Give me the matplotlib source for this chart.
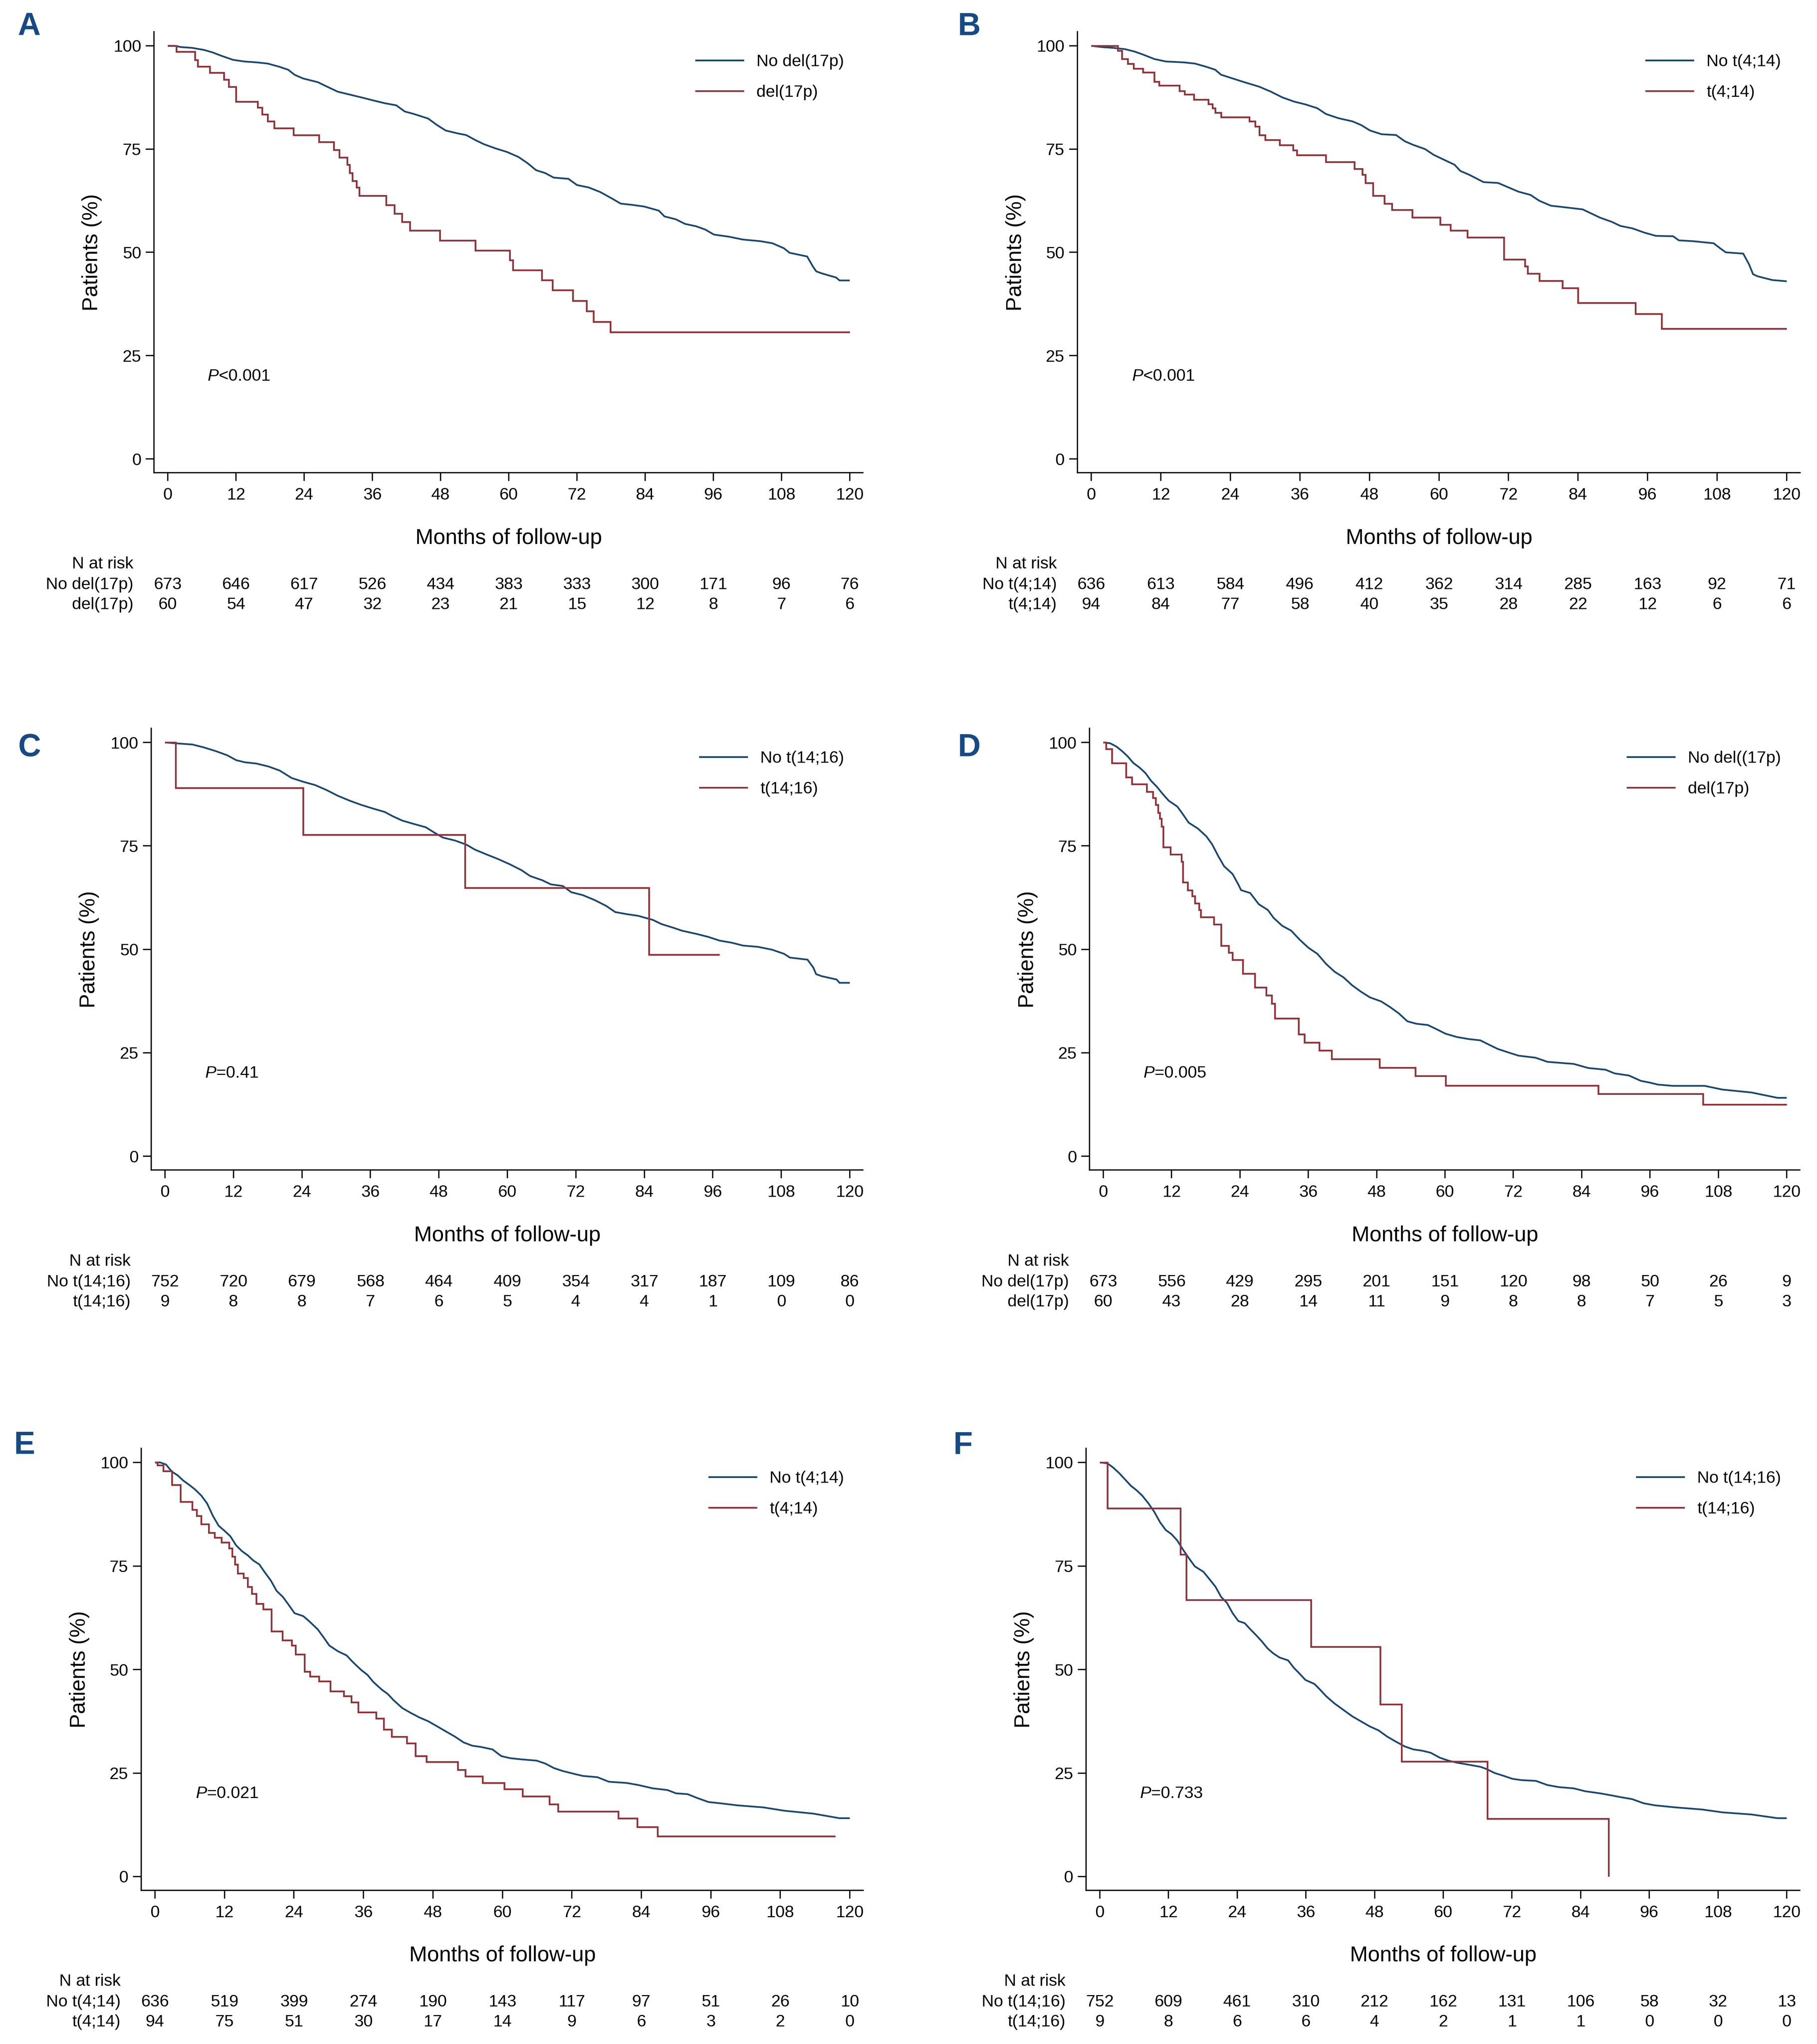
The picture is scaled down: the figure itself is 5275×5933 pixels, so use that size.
# km_panels.py
# Six Kaplan-Meier panels (A-F) with number-at-risk tables, Stata look.

import matplotlib
matplotlib.use("Agg")
import matplotlib.pyplot as plt
from matplotlib.transforms import blended_transform_factory as blend


# ========== Config ==========
W, H = 5275, 5933
DPI = 100
NAVY = "#1a476f"
MAROON = "#90353b"
LETTER_COLOR = "#164a84"
LW = 3.6           # curve width (pt)
AX_LW = 2.6        # spine / tick width (pt)
FS = 35            # tick labels, legend, risk table
FS_LAB = 45        # axis titles
FS_LETTER = 66

plt.rcParams['font.family'] = ['Liberation Sans', 'DejaVu Sans']
plt.rcParams['mathtext.fontset'] = 'custom'
plt.rcParams['mathtext.it'] = 'Liberation Sans:italic'
plt.rcParams['mathtext.rm'] = 'Liberation Sans'


# ========== Data ==========
MONTHS = [0, 12, 24, 36, 48, 60, 72, 84, 96, 108, 120]
Y_TICKS = [0, 25, 50, 75, 100]

# --- A: del(17p) ---
a_blue_t = [0, 1.2, 2.3, 4.3, 6.4, 7.9, 9.4, 11.5, 13.5, 15.6, 17.6, 19.7, 21.2, 22.3, 23.8, 26.4, 27.9,
            29.9, 32.0, 34.1, 36.1, 38.2, 40.2, 41.7, 43.3, 45.8, 47.4, 48.9, 51.0, 52.5, 54.1, 55.6, 57.6,
            59.7, 61.7, 63.3, 64.8, 66.4, 67.9, 70.5, 72.0, 74.1, 76.1, 78.2, 79.7, 81.7, 83.8, 86.4, 87.4,
            89.4, 91.0, 93.0, 94.6, 96.1, 98.7, 101.2, 104.3, 106.4, 108.4, 109.4, 112.5, 113.5, 114.1,
            115.1, 117.6, 118.2, 120]
a_blue_s = [100, 100, 99.7, 99.5, 99.0, 98.4, 97.6, 96.6, 96.2, 96.0, 95.7, 94.9, 94.2, 93.0, 92.1, 91.2, 90.2,
            88.9, 88.2, 87.5, 86.8, 86.1, 85.6, 84.1, 83.5, 82.4, 80.8, 79.5, 78.8, 78.4, 77.2, 76.2, 75.2,
            74.3, 73.1, 71.6, 69.9, 69.2, 68.1, 67.8, 66.3, 65.7, 64.6, 63.0, 61.8, 61.5, 61.1, 60.1, 58.7,
            58.0, 56.9, 56.3, 55.5, 54.3, 53.8, 53.1, 52.7, 52.2, 51.0, 49.9, 49.0, 46.6, 45.4,
            44.9, 43.9, 43.2, 43.2]
a_red_t = [0, 1.5, 4.8, 5.3, 7.4, 9.9, 10.7, 12.0, 15.8, 16.6, 17.6, 18.7, 22.1, 26.6, 29.2, 30.2, 31.6,
           32.0, 32.5, 33.2, 33.7, 38.4, 39.9, 41.2, 42.6, 47.9, 54.1, 60.2, 60.7, 65.8, 67.7, 71.3, 73.7,
           74.9, 77.9, 120]
a_red_s = [100, 98.6, 96.6, 95.0, 93.5, 91.8, 90.1, 86.5, 85.1, 83.4, 81.7, 80.1, 78.4, 76.7, 74.8, 73.0, 71.2,
           69.2, 67.3, 65.7, 63.7, 61.5, 59.4, 57.4, 55.3, 52.9, 50.5, 48.1, 45.7, 43.3, 40.9, 38.3, 35.8,
           33.2, 30.7, 30.7]
a_labels = ["No del(17p)", "del(17p)"]
a_rows = ["No del(17p)", "del(17p)"]
a_risk_blue = [673, 646, 617, 526, 434, 383, 333, 300, 171, 96, 76]
a_risk_red = [60, 54, 47, 32, 23, 21, 15, 12, 8, 7, 6]
a_p = r"$\mathit{P}$<0.001"

# --- B: t(4;14) ---
b_blue_t = [0, 1.8, 3.8, 5.8, 7.5, 8.9, 10.9, 12.9, 15.9, 17.9, 19.9, 21.4, 22.4, 24.4, 26.4, 29.0, 31.0,
            33.0, 35.0, 37.0, 39.0, 40.5, 42.6, 45.1, 46.6, 48.1, 50.1, 52.6, 54.1, 55.6, 57.6, 59.1, 60.6,
            62.7, 63.7, 65.2, 67.7, 70.2, 71.7, 73.7, 75.8, 77.3, 79.3, 81.8, 84.8, 86.3, 87.8, 89.8, 91.3,
            93.4, 95.4, 97.4, 100.4, 101.4, 103.9, 107.4, 108.5, 109.5, 112.5, 113.5, 114.2, 115.0, 117.5, 120]
b_blue_s = [100, 99.7, 99.5, 99.2, 98.6, 97.9, 96.8, 96.2, 96.0, 95.7, 94.9, 94.2, 93.0, 92.1, 91.2, 90.1, 88.9,
            87.5, 86.5, 85.8, 84.9, 83.5, 82.5, 81.7, 80.8, 79.5, 78.6, 78.4, 76.9, 76.0, 75.0, 73.6, 72.6,
            71.2, 69.7, 68.8, 67.0, 66.8, 65.9, 64.7, 63.9, 62.5, 61.3, 60.9, 60.4, 59.4, 58.4, 57.4, 56.4,
            55.8, 54.8, 54.0, 53.9, 52.9, 52.7, 52.2, 51.0, 50.0, 49.7, 47.1, 44.7, 44.2, 43.3, 43.0]
b_red_t = [0, 4.6, 5.3, 6.3, 7.3, 8.9, 10.9, 11.7, 15.2, 16.1, 17.7, 20.2, 20.9, 21.4, 22.4, 27.3, 28.3,
           29.0, 30.0, 32.5, 34.8, 35.5, 40.5, 45.4, 46.8, 47.3, 48.6, 50.6, 51.9, 55.4, 60.2, 62.0, 64.9,
           71.2, 74.8, 75.3, 77.3, 81.3, 84.0, 93.9, 98.4, 120]
b_red_s = [100, 98.8, 96.8, 95.7, 94.5, 93.6, 91.3, 90.4, 89.1, 88.2, 87.0, 85.9, 84.9, 83.8, 82.7, 81.7, 80.5,
           78.4, 77.2, 76.0, 74.7, 73.6, 71.9, 70.2, 68.8, 66.8, 63.7, 61.8, 60.3, 58.5, 56.7, 55.3, 53.6,
           48.3, 46.6, 44.9, 43.1, 41.4, 37.8, 35.1, 31.5, 31.5]
b_labels = ["No t(4;14)", "t(4;14)"]
b_rows = ["No t(4;14)", "t(4;14)"]
b_risk_blue = [636, 613, 584, 496, 412, 362, 314, 285, 163, 92, 71]
b_risk_red = [94, 84, 77, 58, 40, 35, 28, 22, 12, 6, 6]
b_p = r"$\mathit{P}$<0.001"

# --- C: t(14;16) ---
c_blue_t = [0, 1.7, 4.8, 6.8, 8.9, 10.9, 12.5, 14.0, 16.0, 18.1, 20.1, 22.2, 24.2, 26.3, 28.3, 30.3, 32.4,
            34.4, 36.5, 38.5, 40.0, 41.6, 43.6, 45.7, 47.2, 48.7, 50.8, 52.8, 54.3, 56.4, 58.4, 60.5, 62.5,
            64.0, 66.1, 67.6, 69.7, 71.2, 73.2, 75.3, 77.3, 78.9, 80.9, 82.9, 85.5, 87.0, 89.1, 90.6, 93.2,
            95.2, 97.2, 99.3, 101.3, 103.9, 106.4, 108.5, 109.5, 112.6, 113.6, 114.1, 115.1, 117.7, 118.2, 120]
c_blue_s = [100, 99.8, 99.5, 98.8, 97.9, 96.9, 95.7, 95.2, 94.9, 94.2, 93.2, 91.4, 90.5, 89.7, 88.5, 87.1, 85.9,
            84.9, 84.0, 83.2, 82.1, 81.1, 80.3, 79.5, 78.2, 77.0, 76.3, 75.3, 74.1, 72.9, 71.8, 70.5, 69.1,
            67.7, 66.7, 65.7, 65.3, 63.8, 63.1, 61.9, 60.5, 59.0, 58.5, 58.1, 57.1, 56.1, 55.2, 54.5, 53.7,
            53.0, 52.1, 51.6, 50.9, 50.6, 49.9, 48.9, 48.0, 47.5, 45.6, 44.0, 43.5, 42.7, 41.9, 41.9]
c_red_t = [0, 1.9, 24.2, 52.6, 84.8, 97.2]
c_red_s = [100, 89.0, 77.7, 64.9, 48.7, 48.7]
c_labels = ["No t(14;16)", "t(14;16)"]
c_rows = ["No t(14;16)", "t(14;16)"]
c_risk_blue = [752, 720, 679, 568, 464, 409, 354, 317, 187, 109, 86]
c_risk_red = [9, 8, 8, 7, 6, 5, 4, 4, 1, 0, 0]
c_p = r"$\mathit{P}$=0.41"

# --- D: del(17p) ---
d_blue_t = [0, 1.2, 2.3, 3.3, 4.3, 5.3, 6.3, 7.4, 8.4, 9.4, 10.4, 11.5, 13.0, 14.0, 15.0, 16.6, 18.1, 19.1,
            20.2, 21.2, 22.7, 23.7, 24.2, 25.8, 27.3, 28.9, 29.9, 31.4, 33.0, 34.5, 36.0, 37.6, 39.1, 40.6,
            42.2, 43.7, 45.2, 46.8, 48.8, 50.4, 51.9, 53.4, 55.0, 57.0, 58.5, 60.1, 62.1, 64.2, 66.2, 67.8,
            69.3, 71.3, 72.9, 75.9, 78.0, 82.6, 85.2, 88.2, 89.8, 92.3, 94.4, 95.9, 97.4, 100.0, 105.6,
            108.7, 113.8, 118.4, 120]
d_blue_s = [100, 99.8, 99.0, 97.9, 96.6, 95.0, 94.0, 92.6, 90.7, 89.3, 87.6, 85.9, 84.5, 82.6, 80.6, 79.2, 77.3,
            75.4, 72.5, 70.1, 68.2, 65.7, 64.3, 63.6, 60.9, 59.5, 57.6, 55.7, 54.5, 52.3, 50.4, 48.9, 46.5,
            44.6, 43.2, 41.3, 39.8, 38.4, 37.4, 36.0, 34.5, 32.6, 32.0, 31.7, 30.7, 29.6, 28.8, 28.3, 28.0,
            26.9, 25.9, 25.0, 24.3, 23.8, 22.8, 22.3, 21.3, 20.9, 20.0, 19.5, 18.2, 17.8, 17.3, 17.0, 17.0,
            16.1, 15.4, 14.1, 14.1]
d_red_t = [0, 0.5, 1.5, 4.0, 5.0, 7.6, 8.7, 9.2, 9.6, 9.9, 10.2, 10.5, 11.8, 13.7, 14.0, 14.8, 15.6, 16.1,
           16.8, 17.1, 19.4, 20.7, 22.0, 22.7, 24.5, 26.6, 28.6, 29.6, 30.1, 34.3, 35.3, 37.9, 40.1, 48.5,
           54.8, 60.1, 86.9, 105.3, 120]
d_red_s = [100, 98.4, 95.0, 91.6, 89.9, 88.1, 86.6, 84.9, 83.0, 81.6, 79.7, 74.7, 72.9, 71.2, 66.2, 64.3, 62.9,
           61.1, 59.5, 57.8, 56.0, 50.9, 49.2, 47.5, 44.1, 40.8, 38.9, 36.9, 33.3, 29.5, 27.5, 25.6, 23.5,
           21.4, 19.4, 17.1, 15.1, 12.5, 12.5]
d_labels = ["No del((17p)", "del(17p)"]
d_rows = ["No del(17p)", "del(17p)"]
d_risk_blue = [673, 556, 429, 295, 201, 151, 120, 98, 50, 26, 9]
d_risk_red = [60, 43, 28, 14, 11, 9, 8, 8, 7, 5, 3]
d_p = r"$\mathit{P}$=0.005"

# --- E: t(4;14) ---
e_blue_t = [0, 0.9, 1.9, 2.9, 3.9, 4.9, 5.9, 6.9, 8.0, 9.0, 10.0, 11.0, 12.0, 13.0, 14.0, 15.0, 16.0, 17.0,
            18.0, 19.0, 20.0, 21.0, 22.1, 23.1, 24.1, 25.6, 26.6, 28.1, 29.1, 30.1, 31.6, 33.1, 34.1, 35.6,
            36.7, 37.7, 39.2, 40.2, 41.2, 42.7, 44.2, 45.7, 47.2, 48.7, 50.3, 51.8, 53.3, 54.8, 56.3, 58.3,
            59.8, 61.3, 63.3, 65.9, 67.4, 68.9, 70.4, 72.4, 73.9, 76.4, 78.4, 81.5, 83.5, 86.0, 88.5, 90.0,
            92.0, 93.6, 95.6, 97.6, 100.6, 105.1, 108.7, 113.7, 118.2, 120]
e_blue_s = [100, 100, 99.5, 97.8, 96.9, 95.6, 94.6, 93.5, 92.0, 90.1, 87.1, 84.7, 83.5, 82.2, 80.0, 78.6, 77.6,
            76.3, 75.4, 73.4, 71.5, 69.0, 67.5, 65.6, 63.6, 62.9, 61.7, 59.7, 57.8, 55.8, 54.4, 53.4, 51.9,
            49.9, 48.7, 47.0, 45.1, 44.1, 42.6, 40.7, 39.5, 38.4, 37.5, 36.3, 35.0, 33.8, 32.4, 31.6, 31.3,
            30.7, 29.1, 28.6, 28.3, 28.0, 27.3, 26.2, 25.5, 24.8, 24.3, 24.0, 22.9, 22.6, 22.1, 21.3, 20.9,
            20.1, 19.9, 19.0, 18.0, 17.7, 17.2, 16.7, 15.9, 15.2, 14.1, 14.1]
e_red_t = [0, 0.4, 1.4, 2.9, 4.4, 6.4, 7.2, 8.0, 9.3, 10.3, 11.5, 12.8, 13.3, 13.8, 14.3, 15.3, 16.0, 16.7,
           17.5, 18.7, 20.1, 22.0, 23.6, 24.3, 25.8, 26.8, 28.3, 30.3, 32.6, 33.9, 35.1, 38.2, 39.5, 40.9,
           43.5, 45.0, 46.9, 52.3, 53.6, 56.6, 60.3, 63.5, 68.1, 69.6, 80.0, 83.3, 86.8, 117.5]
e_red_s = [100, 99.3, 97.9, 94.6, 90.5, 88.6, 87.1, 85.1, 83.0, 81.9, 80.7, 79.3, 77.3, 75.4, 73.2, 72.1, 70.0,
           68.3, 65.9, 64.6, 59.2, 57.1, 55.8, 53.7, 49.5, 48.3, 47.2, 44.8, 43.6, 42.1, 39.7, 38.2, 35.5,
           33.8, 32.2, 29.1, 27.7, 25.8, 24.2, 22.6, 21.1, 19.4, 17.5, 15.7, 14.1, 12.0, 9.7, 9.7]
e_labels = ["No t(4;14)", "t(4;14)"]
e_rows = ["No t(4;14)", "t(4;14)"]
e_risk_blue = [636, 519, 399, 274, 190, 143, 117, 97, 51, 26, 10]
e_risk_red = [94, 75, 51, 30, 17, 14, 9, 6, 3, 2, 0]
e_p = r"$\mathit{P}$=0.021"

# --- F: t(14;16) ---
f_blue_t = [0, 1.3, 2.3, 3.4, 4.4, 5.4, 6.4, 7.4, 8.5, 9.5, 10.5, 11.5, 12.5, 13.5, 14.6, 15.6, 16.6, 18.1,
            19.1, 20.2, 21.2, 22.2, 23.2, 24.2, 25.3, 26.3, 27.3, 28.3, 29.3, 30.3, 31.4, 32.9, 33.9, 34.9,
            35.9, 37.5, 38.5, 39.5, 41.0, 42.6, 44.1, 45.6, 47.1, 48.7, 50.2, 51.7, 53.3, 54.8, 56.3, 57.8,
            59.4, 60.9, 62.4, 64.5, 66.5, 67.5, 69.0, 70.6, 72.1, 73.6, 76.2, 78.2, 80.2, 82.8, 84.8, 87.4,
            89.4, 90.9, 93.0, 95.0, 97.0, 100.6, 105.2, 108.8, 113.8, 118.4, 120]
f_blue_s = [100, 99.8, 98.8, 97.4, 95.9, 94.4, 93.3, 92.0, 90.1, 88.1, 85.6, 83.7, 82.7, 81.2, 78.8, 76.8, 74.9,
            73.6, 71.9, 70.0, 67.5, 66.1, 63.6, 61.7, 61.2, 59.7, 58.3, 56.8, 55.1, 53.9, 52.9, 52.2, 50.4,
            49.0, 47.5, 46.5, 45.1, 43.6, 41.8, 40.2, 38.7, 37.5, 36.3, 35.3, 33.8, 32.6, 31.4, 30.7, 30.4,
            29.9, 28.7, 28.0, 27.5, 27.0, 26.5, 26.0, 25.0, 24.3, 23.6, 23.3, 23.1, 22.1, 21.6, 21.3, 20.6,
            20.1, 19.6, 19.2, 18.7, 17.7, 17.2, 16.7, 16.2, 15.5, 15.0, 14.1, 14.1]
f_red_t = [0, 1.3, 14.1, 15.1, 36.9, 49.0, 52.7, 67.7, 88.9]
f_red_s = [100, 88.9, 77.8, 66.8, 55.5, 41.6, 27.8, 14.0, 0]
f_labels = ["No t(14;16)", "t(14;16)"]
f_rows = ["No t(14;16)", "t(14;16)"]
f_risk_blue = [752, 609, 461, 310, 212, 162, 131, 106, 58, 32, 13]
f_risk_red = [9, 8, 6, 6, 4, 2, 1, 1, 0, 0, 0]
f_p = r"$\mathit{P}$=0.733"


# ========== Layout (pixels of the 5275x5933 canvas) ==========
# letter centre, pixel of x=0, x=120, y=100, y=0
LAYOUT = {
    "A": dict(letter=(85, 78), x0=487, x120=2467, y100=133, y0=1332),
    "B": dict(letter=(2814, 78), x0=3168, x120=5187, y100=133, y0=1332),
    "C": dict(letter=(85, 2171), x0=479, x120=2467, y100=2155, y0=3356),
    "D": dict(letter=(2814, 2171), x0=3203, x120=5187, y100=2155, y0=3356),
    "E": dict(letter=(71, 4196), x0=450, x120=2467, y100=4245, y0=5447),
    "F": dict(letter=(2796, 4196), x0=3193, x120=5187, y100=4245, y0=5447),
}
XLIM = (-2.4, 122.3)
YLIM = (-3.3, 103.4)


def fx(px):
    return px / W


def fy(py):
    return 1 - py / H


# ========== Drawing ==========
def draw_panel(fig, key, blue_t, blue_s, red_t, red_s, labels, rows, risk_blue, risk_red, ptext):
    lay = LAYOUT[key]
    sx = (lay["x120"] - lay["x0"]) / 120
    sy = (lay["y0"] - lay["y100"]) / 100
    left = lay["x0"] + XLIM[0] * sx
    right = lay["x0"] + XLIM[1] * sx
    top = lay["y0"] - YLIM[1] * sy
    bottom = lay["y0"] - YLIM[0] * sy
    ax = fig.add_axes([fx(left), fy(bottom), fx(right - left), (bottom - top) / H])

    # large group: many tiny steps, drawn through the read-off points
    hb, = ax.plot(blue_t, blue_s, color=NAVY, lw=LW,
                  solid_joinstyle="miter", solid_capstyle="butt")
    hr, = ax.plot(red_t, red_s, drawstyle="steps-post", color=MAROON, lw=LW,
                  solid_joinstyle="miter", solid_capstyle="butt")

    ax.set_xlim(*XLIM)
    ax.set_ylim(*YLIM)
    ax.set_xticks(MONTHS)
    ax.set_yticks(Y_TICKS)
    for s in ("top", "right"):
        ax.spines[s].set_visible(False)
    for s in ("left", "bottom"):
        ax.spines[s].set_linewidth(AX_LW)
    ax.tick_params(direction="out", length=17, width=AX_LW, labelsize=FS)
    ax.tick_params(axis="x", pad=14)
    ax.tick_params(axis="y", pad=10)

    ax.legend([hb, hr], labels, loc="upper right", bbox_to_anchor=(119, 98.0),
              bbox_transform=ax.transData, frameon=False, fontsize=FS,
              handlelength=2.92, handletextpad=0.74, labelspacing=0.9,
              borderpad=0, borderaxespad=0)

    ax.text(7, 20, ptext, fontsize=FS, ha="left", va="center")

    # axis titles
    ax.text(fx(lay["x0"] - 220), 50, "Patients (%)", transform=blend(fig.transFigure, ax.transData),
            rotation=90, ha="center", va="center", fontsize=FS_LAB)
    tx = blend(ax.transData, fig.transFigure)
    ax.text(60, fy(lay["y0"] + 230), "Months of follow-up", transform=tx,
            ha="center", va="center", fontsize=FS_LAB)

    # number at risk table
    y0 = lay["y0"]
    lab_x = fx(lay["x0"] - 100)
    fig.text(lab_x, fy(y0 + 305), "N at risk", ha="right", va="center", fontsize=FS)
    fig.text(lab_x, fy(y0 + 365), rows[0], ha="right", va="center", fontsize=FS)
    fig.text(lab_x, fy(y0 + 423), rows[1], ha="right", va="center", fontsize=FS)
    for m, nb, nr in zip(MONTHS, risk_blue, risk_red):
        ax.text(m, fy(y0 + 365), str(nb), transform=tx, ha="center", va="center", fontsize=FS)
        ax.text(m, fy(y0 + 423), str(nr), transform=tx, ha="center", va="center", fontsize=FS)

    lx, ly = lay["letter"]
    fig.text(fx(lx), fy(ly), key, ha="center", va="center", fontsize=FS_LETTER,
             fontweight="bold", color=LETTER_COLOR)
    return ax


def main():
    fig = plt.figure(figsize=(W / DPI, H / DPI), dpi=DPI)
    fig.patch.set_facecolor("white")

    draw_panel(fig, "A", a_blue_t, a_blue_s, a_red_t, a_red_s, a_labels, a_rows, a_risk_blue, a_risk_red, a_p)
    draw_panel(fig, "B", b_blue_t, b_blue_s, b_red_t, b_red_s, b_labels, b_rows, b_risk_blue, b_risk_red, b_p)
    draw_panel(fig, "C", c_blue_t, c_blue_s, c_red_t, c_red_s, c_labels, c_rows, c_risk_blue, c_risk_red, c_p)
    draw_panel(fig, "D", d_blue_t, d_blue_s, d_red_t, d_red_s, d_labels, d_rows, d_risk_blue, d_risk_red, d_p)
    draw_panel(fig, "E", e_blue_t, e_blue_s, e_red_t, e_red_s, e_labels, e_rows, e_risk_blue, e_risk_red, e_p)
    draw_panel(fig, "F", f_blue_t, f_blue_s, f_red_t, f_red_s, f_labels, f_rows, f_risk_blue, f_risk_red, f_p)

    fig.savefig("out.png", dpi=DPI, facecolor="white")


if __name__ == "__main__":
    main()
